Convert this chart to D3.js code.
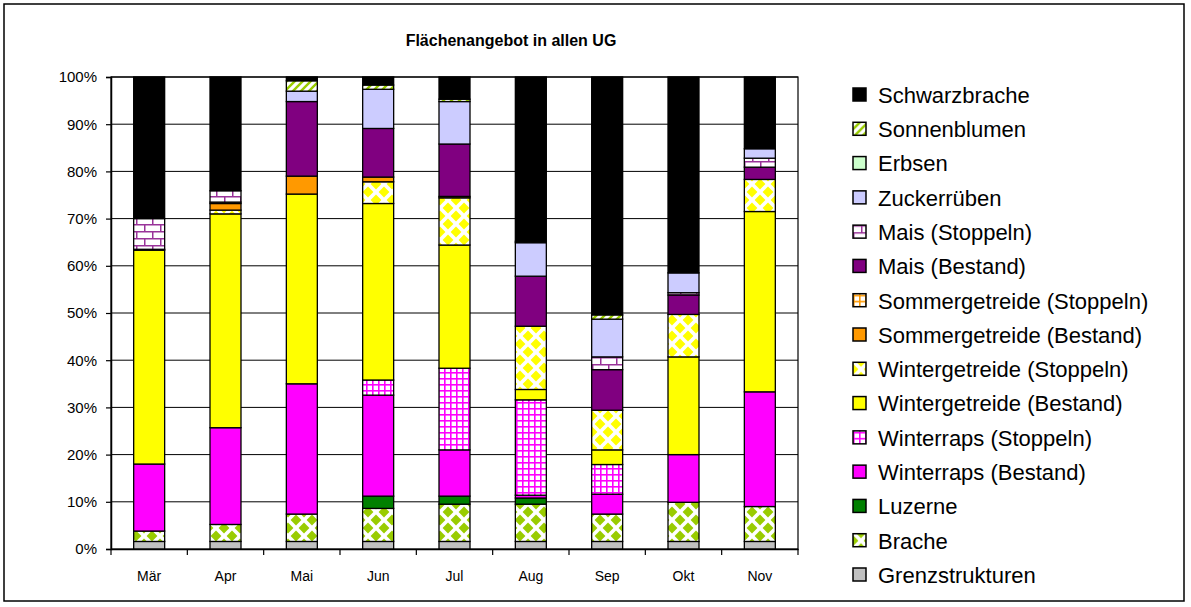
<!DOCTYPE html>
<html><head><meta charset="utf-8">
<script src="https://cdn.jsdelivr.net/npm/d3@7"></script>
<style>body{margin:0;background:#fff} text{font-family:"Liberation Sans",Arial,sans-serif;fill:#000}</style>
</head><body><svg id="c" width="1191" height="607"></svg>
<script>
const title = "Flächenangebot in allen UG";
const months = ["Mär","Apr","Mai","Jun","Jul","Aug","Sep","Okt","Nov"];
const yTickValues = [0,10,20,30,40,50,60,70,80,90,100];
// series values (% of area), bottom to top
const grenzstrukturen   = [1.6,1.6,1.6,1.6,1.6,1.6,1.6,1.6,1.6];
const brache            = [2.2,3.6,5.8,7.0,7.9,7.9,5.8,8.3,7.4];
const luzerne           = [0,0,0,2.6,1.7,1.3,0,0,0];
const winterrapsB       = [14.2,20.5,27.6,21.4,9.8,0.6,4.2,10.1,24.3];
const winterrapsS       = [0,0,0,3.2,17.3,20.2,6.3,0,0];
const wintergetreideB   = [45.3,45.3,40.2,37.4,26.1,2.2,3.1,20.7,38.2];
const wintergetreideS   = [0.2,0.8,0,4.6,10.0,13.4,8.4,9.0,6.8];
const sommergetreideB   = [0,1.4,3.8,1.0,0.3,0,0,0,0];
const sommergetreideS   = [0,0.3,0,0,0,0,0,0,0];
const maisB             = [0,0,15.8,10.3,11.1,10.6,8.6,4.1,2.6];
const maisS             = [6.5,2.4,0,0,0,0,2.7,0.5,1.9];
const zuckerrueben      = [0,0,2.2,8.3,9.0,7.1,8.0,4.2,2.0];
const erbsen            = [0,0,0,0,0,0,0,0,0];
const sonnenblumen      = [0,0,2.2,0.9,0.5,0.3,0.9,0,0];
const schwarzbrache     = [30.0,24.1,0.8,1.7,4.7,34.8,50.4,41.5,15.2];

const seriesNames = ["Grenzstrukturen","Brache","Luzerne","Winterraps (Bestand)","Winterraps (Stoppeln)",
 "Wintergetreide (Bestand)","Wintergetreide (Stoppeln)","Sommergetreide (Bestand)","Sommergetreide (Stoppeln)",
 "Mais (Bestand)","Mais (Stoppeln)","Zuckerrüben","Erbsen","Sonnenblumen","Schwarzbrache"];
const seriesValues = [grenzstrukturen,brache,luzerne,winterrapsB,winterrapsS,wintergetreideB,wintergetreideS,
 sommergetreideB,sommergetreideS,maisB,maisS,zuckerrueben,erbsen,sonnenblumen,schwarzbrache];
const fills = {
 "Grenzstrukturen":"#C0C0C0","Brache":"url(#pBrache)","Luzerne":"#008000",
 "Winterraps (Bestand)":"#FF00FF","Winterraps (Stoppeln)":"url(#pWR)",
 "Wintergetreide (Bestand)":"#FFFF00","Wintergetreide (Stoppeln)":"url(#pWG)",
 "Sommergetreide (Bestand)":"#FF9900","Sommergetreide (Stoppeln)":"url(#pSG)",
 "Mais (Bestand)":"#800080","Mais (Stoppeln)":"url(#pMais)","Zuckerrüben":"#CCCCFF",
 "Erbsen":"#CCFFCC","Sonnenblumen":"url(#pSonne)","Schwarzbrache":"#000000"};

const svg = d3.select("#c");
const defs = svg.append("defs");
function diamonds(id,color){
  const p = defs.append("pattern").attr("id",id).attr("patternUnits","userSpaceOnUse").attr("width",16).attr("height",16);
  p.append("rect").attr("width",16).attr("height",16).attr("fill","#fff");
  const r=5.4;
  [[0,0],[16,0],[0,16],[16,16],[8,8]].forEach(([cx,cy])=>{
    p.append("path").attr("d",`M${cx-r},${cy}L${cx},${cy-r}L${cx+r},${cy}L${cx},${cy+r}Z`).attr("fill",color);
  });
}
diamonds("pBrache","#99CC00");
diamonds("pWG","#FFFF00");
function grid(id,color){
  const p = defs.append("pattern").attr("id",id).attr("patternUnits","userSpaceOnUse").attr("width",6).attr("height",6);
  p.append("rect").attr("width",6).attr("height",6).attr("fill","#fff");
  p.append("rect").attr("width",6).attr("height",1.6).attr("fill",color);
  p.append("rect").attr("width",1.6).attr("height",6).attr("fill",color);
}
grid("pWR","#FF00FF");
grid("pSG","#FF9900");
{
  const p = defs.append("pattern").attr("id","pMais").attr("patternUnits","userSpaceOnUse").attr("width",16).attr("height",14);
  p.append("rect").attr("width",16).attr("height",14).attr("fill","#fff");
  const c="#993399";
  p.append("rect").attr("y",0).attr("width",16).attr("height",1.5).attr("fill",c);
  p.append("rect").attr("y",7).attr("width",16).attr("height",1.5).attr("fill",c);
  p.append("rect").attr("x",0).attr("y",0).attr("width",1.5).attr("height",7).attr("fill",c);
  p.append("rect").attr("x",8).attr("y",7).attr("width",1.5).attr("height",7).attr("fill",c);
}
{
  const p = defs.append("pattern").attr("id","pSonne").attr("patternUnits","userSpaceOnUse").attr("width",8).attr("height",8);
  p.append("rect").attr("width",8).attr("height",8).attr("fill","#fff");
  p.append("path").attr("d","M-2,10L10,-2M-2,2L2,-2M6,10L10,6").attr("stroke","#99CC00").attr("stroke-width",2.4);
}

// outer frame
svg.append("rect").attr("x",4).attr("y",4).attr("width",1180).attr("height",597)
  .attr("fill","#fff").attr("stroke","#000").attr("stroke-width",1.5);

svg.append("text").attr("x",511).attr("y",46).attr("text-anchor","middle")
  .attr("font-size",16).attr("font-weight","bold").text(title);

const x = d3.scaleBand().domain(months).range([111,798]).paddingInner(0.594).paddingOuter(0.297);
const y = d3.scaleLinear().domain([0,100]).range([549,77]);

// gridlines
svg.append("g").selectAll("line").data(yTickValues.slice(1)).join("line")
  .attr("x1",x.range()[0]).attr("x2",x.range()[1]).attr("y1",d=>y(d)).attr("y2",d=>y(d))
  .attr("stroke","#000").attr("stroke-width",1);
// plot frame
svg.append("rect").attr("x",x.range()[0]).attr("y",y(100)).attr("width",x.range()[1]-x.range()[0]).attr("height",y(0)-y(100))
  .attr("fill","none").attr("stroke","#000").attr("stroke-width",1.2);

// stacked bars
const table = months.map((m,i)=>{const o={month:m}; seriesNames.forEach((n,k)=>o[n]=seriesValues[k][i]); return o;});
const stacked = d3.stack().keys(seriesNames)(table);
const gBars = svg.append("g");
stacked.forEach(s=>{
  gBars.append("g").selectAll("rect").data(s.filter(d=>d[1]-d[0]>0)).join("rect")
    .attr("x",d=>x(d.data.month)).attr("width",x.bandwidth())
    .attr("y",d=>y(d[1])).attr("height",d=>y(d[0])-y(d[1]))
    .attr("fill",fills[s.key]).attr("stroke","#000").attr("stroke-width",1.3);
});

// y axis
const yAxis = svg.append("g").attr("transform",`translate(${x.range()[0]},0)`)
  .call(d3.axisLeft(y).tickValues(yTickValues).tickSize(5).tickPadding(9).tickFormat(d=>d+"%"));
yAxis.select(".domain").attr("stroke","#000").attr("stroke-width",1.5);
yAxis.selectAll(".tick line").attr("stroke","#000").attr("stroke-width",1.2);
yAxis.selectAll("text").attr("font-size",15).attr("font-family","Liberation Sans, Arial, sans-serif").attr("fill","#000");

// x axis
const xAxis = svg.append("g").attr("transform",`translate(0,${y(0)})`)
  .call(d3.axisBottom(x).tickSize(0).tickPadding(22));
xAxis.select(".domain").attr("stroke","#000").attr("stroke-width",1.5);
xAxis.selectAll("text").attr("font-size",14).attr("font-family","Liberation Sans, Arial, sans-serif").attr("fill","#000");
const bounds = d3.range(months.length+1).map(i=>x.range()[0]+i*x.step());
xAxis.selectAll("line.bt").data(bounds).join("line").attr("class","bt")
  .attr("x1",d=>d).attr("x2",d=>d).attr("y1",0).attr("y2",6).attr("stroke","#000").attr("stroke-width",1.2);

// legend
const legendOrder = seriesNames.slice().reverse();
const lg = svg.append("g");
const ly = d3.scalePoint().domain(legendOrder).range([95,575]);
const items = lg.selectAll("g").data(legendOrder).join("g").attr("transform",d=>`translate(853,${ly(d)})`);
items.append("rect").attr("x",0).attr("y",-7).attr("width",13).attr("height",13)
  .attr("fill",d=>fills[d]).attr("stroke","#000").attr("stroke-width",1.5);
items.append("text").attr("x",25).attr("y",0).attr("dy","0.36em").attr("font-size",22).text(d=>d);
</script></body></html>
